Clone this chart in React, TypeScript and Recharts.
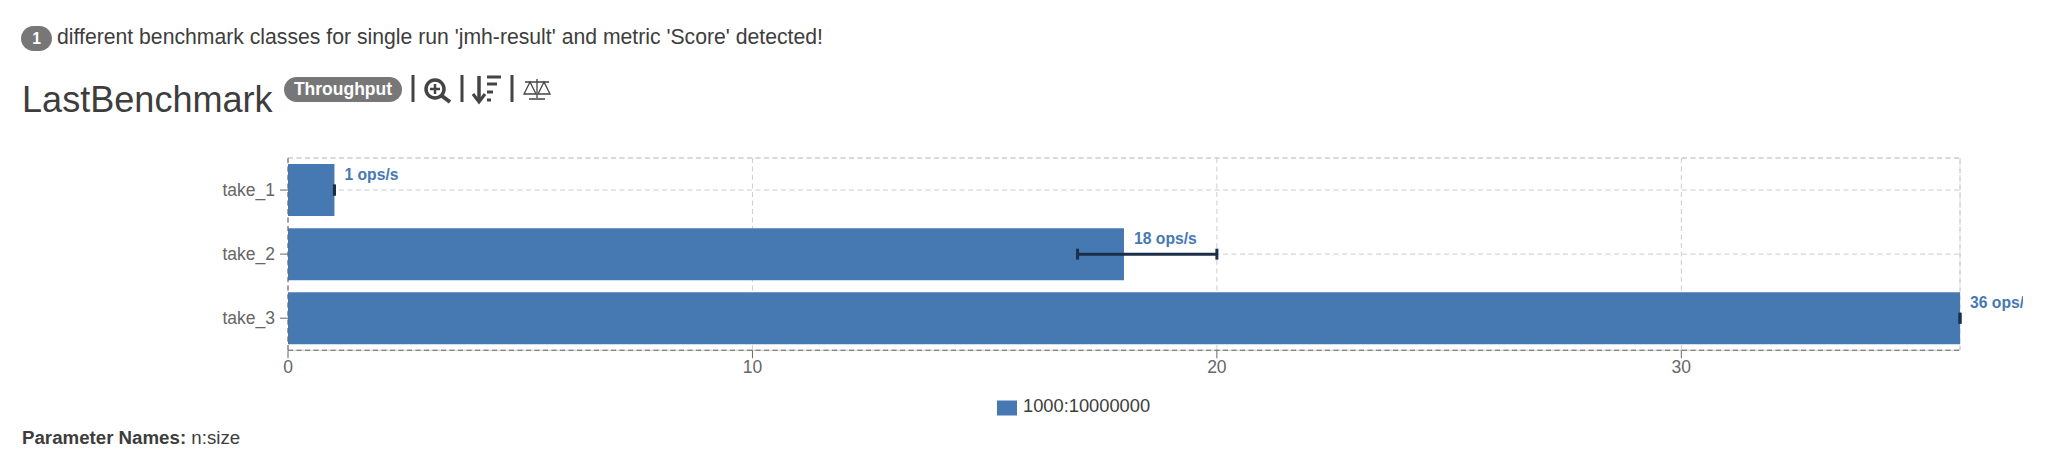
import {
  BarChart,
  Bar,
  XAxis,
  YAxis,
  CartesianGrid,
  ErrorBar,
  LabelList,
  Legend,
  ReferenceArea,
} from "recharts";

const FONT = '"Liberation Sans", Arial, sans-serif';
const BLUE = "#4679b2";
const NAVY = "#1b2f4b";
const TEXT = "#3d3d3d";
const BADGE = "#777777";

const categories = ["take_1", "take_2", "take_3"];
const scores = [1, 18, 36];
const errorBelow = [0, 1, 0];
const errorAbove = [0, 2, 0];
const xTicks = [0, 10, 20, 30];
const xMax = 36;
const seriesName = "1000:10000000";

const chartData = categories.map((name, i) => ({
  name,
  score: scores[i],
  error: [errorBelow[i], errorAbove[i]],
  label: `${scores[i]} ops/s`,
}));

// label sits above the grid line, so it is drawn by hand to stop it wrapping at the chart edge
const ScoreLabel = (props: any) => (
  <text
    x={props.x + props.width + 10}
    y={props.y + props.height / 2 - 10}
    fill={BLUE}
    fontSize={15.7}
    fontWeight="bold"
    fontFamily={FONT}
  >
    {props.value}
  </text>
);

const Icons = () => (
  <svg width={150} height={40} viewBox="410 70 150 40" style={{ position: "absolute", left: 410, top: 70 }}>
    <g stroke="#444" strokeWidth={3} fill="none">
      <path d="M413 75V102M462 75V102M512 75V102" />
      <circle cx={435} cy={89} r={9} strokeWidth={3.5} />
      <path d="M442 96L450 102" strokeWidth={4} />
      <path d="M435 84V94M430 89H440" strokeWidth={2.5} />
      <path d="M479 76V100" strokeWidth={3.5} />
      <path d="M473 94L479 102L485 94" strokeWidth={3} />
      <path d="M487 77H501M487 84H497M487 92H493M487 100H491" />
      <g strokeWidth={1.3}>
        <path d="M537 79V98M529 99H545M525 82H549" />
        <path d="M530 82L524 94H536ZM544 82L538 94H550Z" />
      </g>
    </g>
  </svg>
);

const App = () => (
  <div style={{ position: "absolute", left: 0, top: 0, width: 2048, height: 457, fontFamily: FONT, color: TEXT, overflow: "hidden" }}>
    <div style={{ position: "absolute", left: 21, top: 26, width: 31, height: 25, borderRadius: 13, background: BADGE, color: "#fff", fontSize: 15.7, fontWeight: "bold", lineHeight: "25px", textAlign: "center" }}>1</div>
    <div style={{ position: "absolute", left: 57, top: 25, fontSize: 21.2, lineHeight: "24px", whiteSpace: "nowrap" }}>
      different benchmark classes for single run 'jmh-result' and metric 'Score' detected!
    </div>
    <div style={{ position: "absolute", left: 22, top: 79, fontSize: 36.1, lineHeight: "42px", whiteSpace: "nowrap" }}>LastBenchmark</div>
    <div style={{ position: "absolute", left: 284, top: 77, width: 118, height: 25, borderRadius: 13, background: BADGE, color: "#fff", fontSize: 17.5, fontWeight: "bold", lineHeight: "25px", textAlign: "center" }}>Throughput</div>
    <Icons />

    <div style={{ position: "absolute", left: 0, top: 0 }}>
      <BarChart
        width={2023}
        height={457}
        data={chartData}
        layout="vertical"
        barCategoryGap="9.5%"
        margin={{ top: 158, right: 63, bottom: 54, left: 0 }}
      >
        <ReferenceArea x1={0} x2={xMax} fill="none" stroke="#cccccc" strokeDasharray="5 3.5" />
        <CartesianGrid stroke="#cccccc" strokeDasharray="5 3.5" />
        <XAxis
          type="number"
          domain={[0, xMax]}
          ticks={xTicks}
          height={30}
          tickSize={8}
          tickMargin={2}
          axisLine={{ stroke: "#666", strokeDasharray: "5 3.5" }}
          tickLine={{ stroke: "#666" }}
          tick={{ fontSize: 17.5, fill: "#666", fontFamily: FONT }}
        />
        <YAxis
          type="category"
          dataKey="name"
          width={288}
          tickSize={8}
          tickMargin={5}
          axisLine={{ stroke: "#666", strokeDasharray: "5 3.5" }}
          tickLine={{ stroke: "#666" }}
          tick={{ fontSize: 17.5, fill: "#666", fontFamily: FONT }}
        />
        <Legend
          iconType="rect"
          iconSize={20}
          wrapperStyle={{ top: 395, left: 997, width: "auto", fontFamily: FONT }}
          formatter={(value) => <span style={{ color: TEXT, fontSize: 18.3, marginLeft: 2 }}>{value}</span>}
        />
        <Bar dataKey="score" name={seriesName} fill={BLUE} isAnimationActive={false}>
          <ErrorBar dataKey="error" direction="x" width={5.5} stroke={NAVY} strokeWidth={3} isAnimationActive={false} />
          <LabelList dataKey="label" content={ScoreLabel} />
        </Bar>
      </BarChart>
    </div>

    <div style={{ position: "absolute", left: 22, top: 427, fontSize: 18.7, lineHeight: "22px", whiteSpace: "nowrap" }}>
      <b>Parameter Names:</b> n:size
    </div>
  </div>
);

export default App;
